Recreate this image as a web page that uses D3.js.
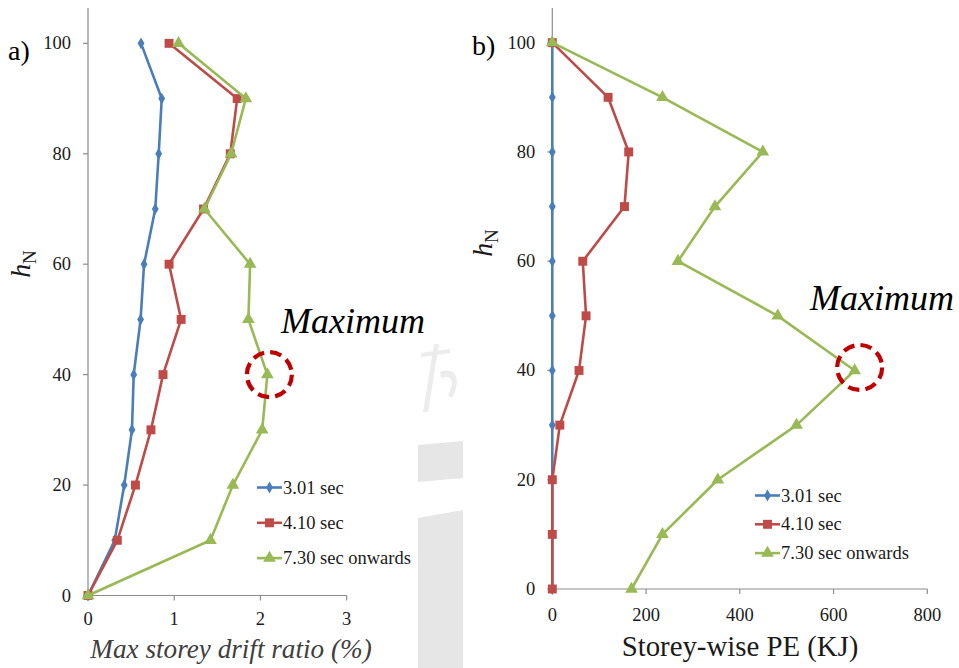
<!DOCTYPE html>
<html>
<head>
<meta charset="utf-8">
<script src="https://cdn.jsdelivr.net/npm/d3@7"></script>
</head>
<body style="margin:0">
<svg id="chart" width="959" height="668"></svg>
<script>
// Storey levels (h_N) shared by both panels
const levels = [0, 10, 20, 30, 40, 50, 60, 70, 80, 90, 100];

// Panel a) maximum storey drift ratio (%) per level
const driftA301 = [0, 0.31, 0.42, 0.51, 0.53, 0.61, 0.65, 0.78, 0.82, 0.855, 0.615];
const driftA410 = [0, 0.34, 0.55, 0.73, 0.87, 1.08, 0.94, 1.34, 1.65, 1.73, 0.94];
const driftA730 = [0, 1.42, 1.68, 2.02, 2.08, 1.86, 1.88, 1.35, 1.66, 1.83, 1.05];

// Panel b) storey-wise potential energy (KJ) per level
const peB301 = [0, 0, 0, 0, 0, 0, 0, 0, 0, 0, 0];
const peB410 = [0, 0, 0, 16, 57, 72, 65, 154, 163, 119, 0];
const peB730 = [169, 235, 353, 521, 645, 481, 268, 347, 449, 235, 0];

const seriesNames = ["3.01 sec", "4.10 sec", "7.30 sec onwards"];
const xTicksA = [0, 1, 2, 3];
const xTicksB = [0, 200, 400, 600, 800];
const yTicks = [0, 20, 40, 60, 80, 100];

const colors = ["#4A7EBB", "#BE4B48", "#98B954"];
const markerTypes = [d3.symbolDiamond, d3.symbolSquare, d3.symbolTriangle];
const markerSizes = [40, 80, 70];

const svg = d3.select("#chart");
const FONT = '"Liberation Serif"';

// Light grey background block between the panels
const wm = svg.append("g").attr("fill", "#e6e6e6");
wm.append("path").attr("d", "M418,445 L463,441 L463,478 L418,482 Z");
wm.append("path").attr("d", "M418,518 L463,510 L463,668 L418,668 Z");
wm.append("path").attr("d", "M421,353 L450,349 L450,353 L421,357 Z").attr("fill", "#ececec");
wm.append("path").attr("d", "M434,344 L439,344 L428,412 L423,412 Z").attr("fill", "#ececec");
wm.append("path").attr("d", "M440,372 C456,366 462,380 452,398 L448,396 C455,382 452,374 441,378 Z").attr("fill", "#ececec");

function addText(parent, size, italic) {
  const t = parent.append("text").attr("font-size", size).style("font-family", FONT);
  if (italic) t.attr("font-style", "italic");
  return t;
}

function panel(cfg) {
  const g = svg.append("g");
  const x = d3.scaleLinear().domain(cfg.xDomain).range(cfg.xRange);
  const y = d3.scaleLinear().domain([0, cfg.yMax]).range(cfg.yRange);

  const gridStroke = "#8c8c8c";

  // y axis line and ticks
  g.append("line").attr("x1", x(0)).attr("x2", x(0)).attr("y1", cfg.yRange[1]).attr("y2", cfg.yRange[0])
    .attr("stroke", gridStroke).attr("stroke-width", 1.2);
  yTicks.forEach(v => {
    g.append("line").attr("x1", x(0) - 5).attr("x2", x(0)).attr("y1", y(v)).attr("y2", y(v))
      .attr("stroke", gridStroke).attr("stroke-width", 1.2);
    addText(g, 18.5, false).attr("x", x(0) - 17).attr("y", y(v) + 6).attr("text-anchor", "end")
      .attr("fill", "#1a1a1a").text(d3.format("d")(v));
  });
  // x axis line and ticks
  g.append("line").attr("x1", cfg.xRange[0]).attr("x2", cfg.xRange[1]).attr("y1", y(0)).attr("y2", y(0))
    .attr("stroke", gridStroke).attr("stroke-width", 1.2);
  cfg.xTicks.forEach(v => {
    g.append("line").attr("x1", x(v)).attr("x2", x(v)).attr("y1", y(0)).attr("y2", y(0) + 5)
      .attr("stroke", gridStroke).attr("stroke-width", 1.2);
    addText(g, 18.5, false).attr("x", x(v)).attr("y", y(0) + cfg.xTickDy).attr("text-anchor", "middle")
      .attr("fill", "#1a1a1a").text(d3.format("d")(v));
  });

  // series lines and markers
  const line = d3.line().x(d => x(d[0])).y(d => y(d[1]));
  cfg.series.forEach((vals, i) => {
    const pts = vals.map((v, k) => [v, levels[k]]);
    g.append("path").datum(pts)
      .attr("fill", "none").attr("stroke", colors[i]).attr("stroke-width", 2.6)
      .attr("stroke-linejoin", "round").attr("d", line);
    g.selectAll(null).data(pts).enter().append("path")
      .attr("transform", d => `translate(${x(d[0])},${y(d[1])})`)
      .attr("d", d3.symbol().type(markerTypes[i]).size(markerSizes[i]))
      .attr("fill", colors[i]);
  });

  // legend
  const lg = g.append("g");
  seriesNames.forEach((name, i) => {
    const ly = cfg.legend.y + i * cfg.legend.dy;
    lg.append("line").attr("x1", cfg.legend.x).attr("x2", cfg.legend.x + 25)
      .attr("y1", ly).attr("y2", ly).attr("stroke", colors[i]).attr("stroke-width", 2.6);
    lg.append("path").attr("transform", `translate(${cfg.legend.x + 12.5},${ly})`)
      .attr("d", d3.symbol().type(markerTypes[i]).size(markerSizes[i])).attr("fill", colors[i]);
    addText(lg, 18.5, false).attr("x", cfg.legend.x + 26).attr("y", ly + 6)
      .attr("fill", "#1a1a1a").text(name);
  });

  // panel letter
  addText(g, 28, false).attr("x", cfg.letter[0]).attr("y", cfg.letter[1])
    .attr("fill", "#000").text(cfg.letterText);

  // y title: italic h with subscript N, rotated
  const yt = addText(g, 28, false)
    .attr("transform", `translate(${cfg.yTitle[0]},${cfg.yTitle[1]}) rotate(-90)`)
    .attr("text-anchor", "middle").attr("fill", "#1a1a1a");
  yt.append("tspan").attr("font-style", "italic").text("h");
  yt.append("tspan").attr("dy", 6).attr("font-size", 19).text("N");

  // x title
  addText(g, cfg.xTitleSize, cfg.xTitleItalic).attr("x", cfg.xTitle[0]).attr("y", cfg.xTitle[1])
    .attr("text-anchor", "middle").attr("fill", cfg.xTitleColor).text(cfg.xTitleText);

  // highlight of the maximum
  const [mx, my] = cfg.maxPoint;
  g.append("circle").attr("cx", x(mx) + cfg.circleOffset[0]).attr("cy", y(my) + cfg.circleOffset[1]).attr("r", 22.5)
    .attr("fill", "none").attr("stroke", "#C00000").attr("stroke-width", 4.2)
    .attr("stroke-dasharray", "11.5,6.2");
  addText(g, 36, true).attr("x", cfg.maxLabel[0]).attr("y", cfg.maxLabel[1])
    .attr("fill", "#000").text("Maximum");
}

panel({
  xDomain: [0, 3], xRange: [88, 346.7], yMax: 106.4, yRange: [595.5, 8],
  xTicks: xTicksA, xTickDy: 29, series: [driftA301, driftA410, driftA730],
  legend: { x: 257, y: 487.5, dy: 35.3 },
  letter: [8, 60], letterText: "a)",
  yTitle: [30, 264],
  xTitle: [231, 658], xTitleText: "Max storey drift ratio (%)", xTitleSize: 27.2, xTitleItalic: true, xTitleColor: "#404040",
  maxPoint: [2.08, 40], circleOffset: [2, 0], maxLabel: [281, 333]
});

panel({
  xDomain: [0, 800], xRange: [552.3, 927.3], yMax: 106.35, yRange: [589, 8],
  xTicks: xTicksB, xTickDy: 32, series: [peB301, peB410, peB730],
  legend: { x: 755, y: 495.5, dy: 28.8 },
  letter: [472, 55], letterText: "b)",
  yTitle: [492, 243],
  xTitle: [740, 656], xTitleText: "Storey-wise PE (KJ)", xTitleSize: 28.8, xTitleItalic: false, xTitleColor: "#1a1a1a",
  maxPoint: [645, 40], circleOffset: [5, -3], maxLabel: [810, 310]
});
</script>
</body>
</html>
